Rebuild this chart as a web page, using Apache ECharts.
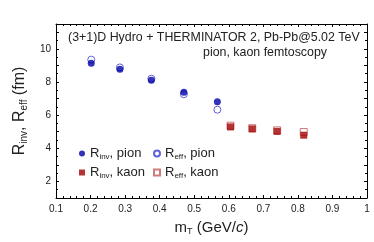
<!DOCTYPE html>
<html><head><meta charset="utf-8">
<script src="https://cdn.jsdelivr.net/npm/echarts@6/dist/echarts.min.js"></script>
<style>html,body{margin:0;padding:0;background:#fff}#c{width:374px;height:242px}</style>
</head><body><div id="c"></div>
<script>
const mTPion = [0.202, 0.285, 0.376, 0.470, 0.567];
const rInvPion = [9.13, 8.77, 8.10, 7.38, 6.81];
const rEffPion = [9.35, 8.88, 8.20, 7.26, 6.33];
const mTKaon = [0.605, 0.668, 0.740, 0.817];
const rInvKaon = [5.29, 5.17, 5.02, 4.79];
const rEffKaon = [5.36, 5.21, 5.08, 4.98];
const xTicks = [0.1,0.2,0.3,0.4,0.5,0.6,0.7,0.8,0.9,1];
const yTickLabels = [2,4,6,8,10];

const pair = (xs, ys) => xs.map((x,i)=>[x, ys[i]]);
const FONT = 'Liberation Sans, Arial, sans-serif';
const sub = {
  a:{fontSize:13, fontFamily:FONT, color:'#222'},
  s:{fontSize:8, fontFamily:FONT, color:'#222', padding:[7,0,0,0]}
};
const chart = echarts.init(document.getElementById('c'), null, {renderer:'canvas'});
const baseX = {type:'value', min:0.1, max:1, interval:0.1,
  axisLine:{show:true, lineStyle:{color:'#000', width:1}},
  axisTick:{show:true, inside:true, length:3, lineStyle:{color:'#000'}},
  minorTick:{show:true, splitNumber:5, length:2, lineStyle:{color:'#000'}},
  splitLine:{show:false}};
const baseY = {type:'value', min:1, max:11.5, interval:1,
  axisLine:{show:true, lineStyle:{color:'#000', width:1}},
  axisTick:{show:true, inside:true, length:3, lineStyle:{color:'#000'}},
  minorTick:{show:true, splitNumber:2, length:2, lineStyle:{color:'#000'}},
  splitLine:{show:false}};
chart.setOption({
  animation:false,
  grid:{left:56, right:7, top:24, bottom:44},
  xAxis:[
    Object.assign({}, baseX, {position:'bottom',
      axisLabel:{fontSize:10, fontFamily:FONT, color:'#222', margin:6,
        formatter: v => { const t = xTicks.find(q=>Math.abs(q-v)<1e-6); return t===undefined?'':String(t); }},
      name:'{m|m}{t|T}{m| (GeV/}{i|c}{m|)}', nameLocation:'middle', nameGap:21,
      nameTextStyle:{rich:{m:{fontSize:15,fontFamily:FONT,color:'#222'}, t:{fontSize:9,fontFamily:FONT,color:'#222',padding:[8,0,0,0]}, i:{fontSize:15,fontFamily:FONT,fontStyle:'italic',color:'#222'}}}}),
    Object.assign({}, baseX, {position:'top', axisLabel:{show:false}})
  ],
  yAxis:[
    Object.assign({}, baseY, {position:'left',
      axisLabel:{fontSize:10, fontFamily:FONT, color:'#222', margin:5,
        formatter: v => yTickLabels.includes(Math.round(v)) && Math.abs(v-Math.round(v))<1e-6 ? String(Math.round(v)) : ''},
      name:'{m|R}{t|inv}{m|, R}{t|eff}{m| (fm)}', nameLocation:'middle', nameGap:22, nameRotate:90,
      nameTextStyle:{rich:{m:{fontSize:16,fontFamily:FONT,color:'#222'}, t:{fontSize:10,fontFamily:FONT,color:'#222',padding:[9,0,0,0]}}}}),
    Object.assign({}, baseY, {position:'right', axisLabel:{show:false}})
  ],
  title:[
    {text:'(3+1)D Hydro + THERMINATOR 2, Pb-Pb@5.02 TeV', left:63, top:27,
      textStyle:{fontSize:12.4, fontWeight:'normal', fontFamily:FONT, color:'#222'}},
    {text:'pion, kaon femtoscopy', right:42, top:42,
      textStyle:{fontSize:12.4, fontWeight:'normal', fontFamily:FONT, color:'#222'}}
  ],
  legend:[
    {left:74, top:142, orient:'vertical', itemGap:5, itemWidth:6, itemHeight:6,
      data:['Rinv, pion','Rinv, kaon'],
      formatter: n => '{a|R}{s|inv}{a|, ' + n.split(', ')[1] + '}',
      textStyle:{rich:sub}},
    {left:148, top:142, orient:'vertical', itemGap:5, itemWidth:6, itemHeight:6,
      data:['Reff, pion','Reff, kaon'],
      formatter: n => '{a|R}{s|eff}{a|, ' + n.split(', ')[1] + '}',
      textStyle:{rich:sub}}
  ],
  series:[
    {name:'Reff, pion', type:'scatter', data:pair(mTPion, rEffPion), symbol:'circle', symbolSize:7, z:2,
      itemStyle:{color:'#fff', borderColor:'#3a3ad0', borderWidth:1}},
    {name:'Rinv, pion', type:'scatter', data:pair(mTPion, rInvPion), symbol:'circle', symbolSize:7, z:3,
      itemStyle:{color:'#0000a6'}},
    {name:'Reff, kaon', type:'scatter', data:pair(mTKaon, rEffKaon), symbol:'rect', symbolSize:7, z:2,
      itemStyle:{color:'#fff', borderColor:'#c05a5a', borderWidth:1}},
    {name:'Rinv, kaon', type:'scatter', data:pair(mTKaon, rInvKaon), symbol:'rect', symbolSize:7, z:3,
      itemStyle:{color:'#a30000'}}
  ]
});
</script></body></html>
